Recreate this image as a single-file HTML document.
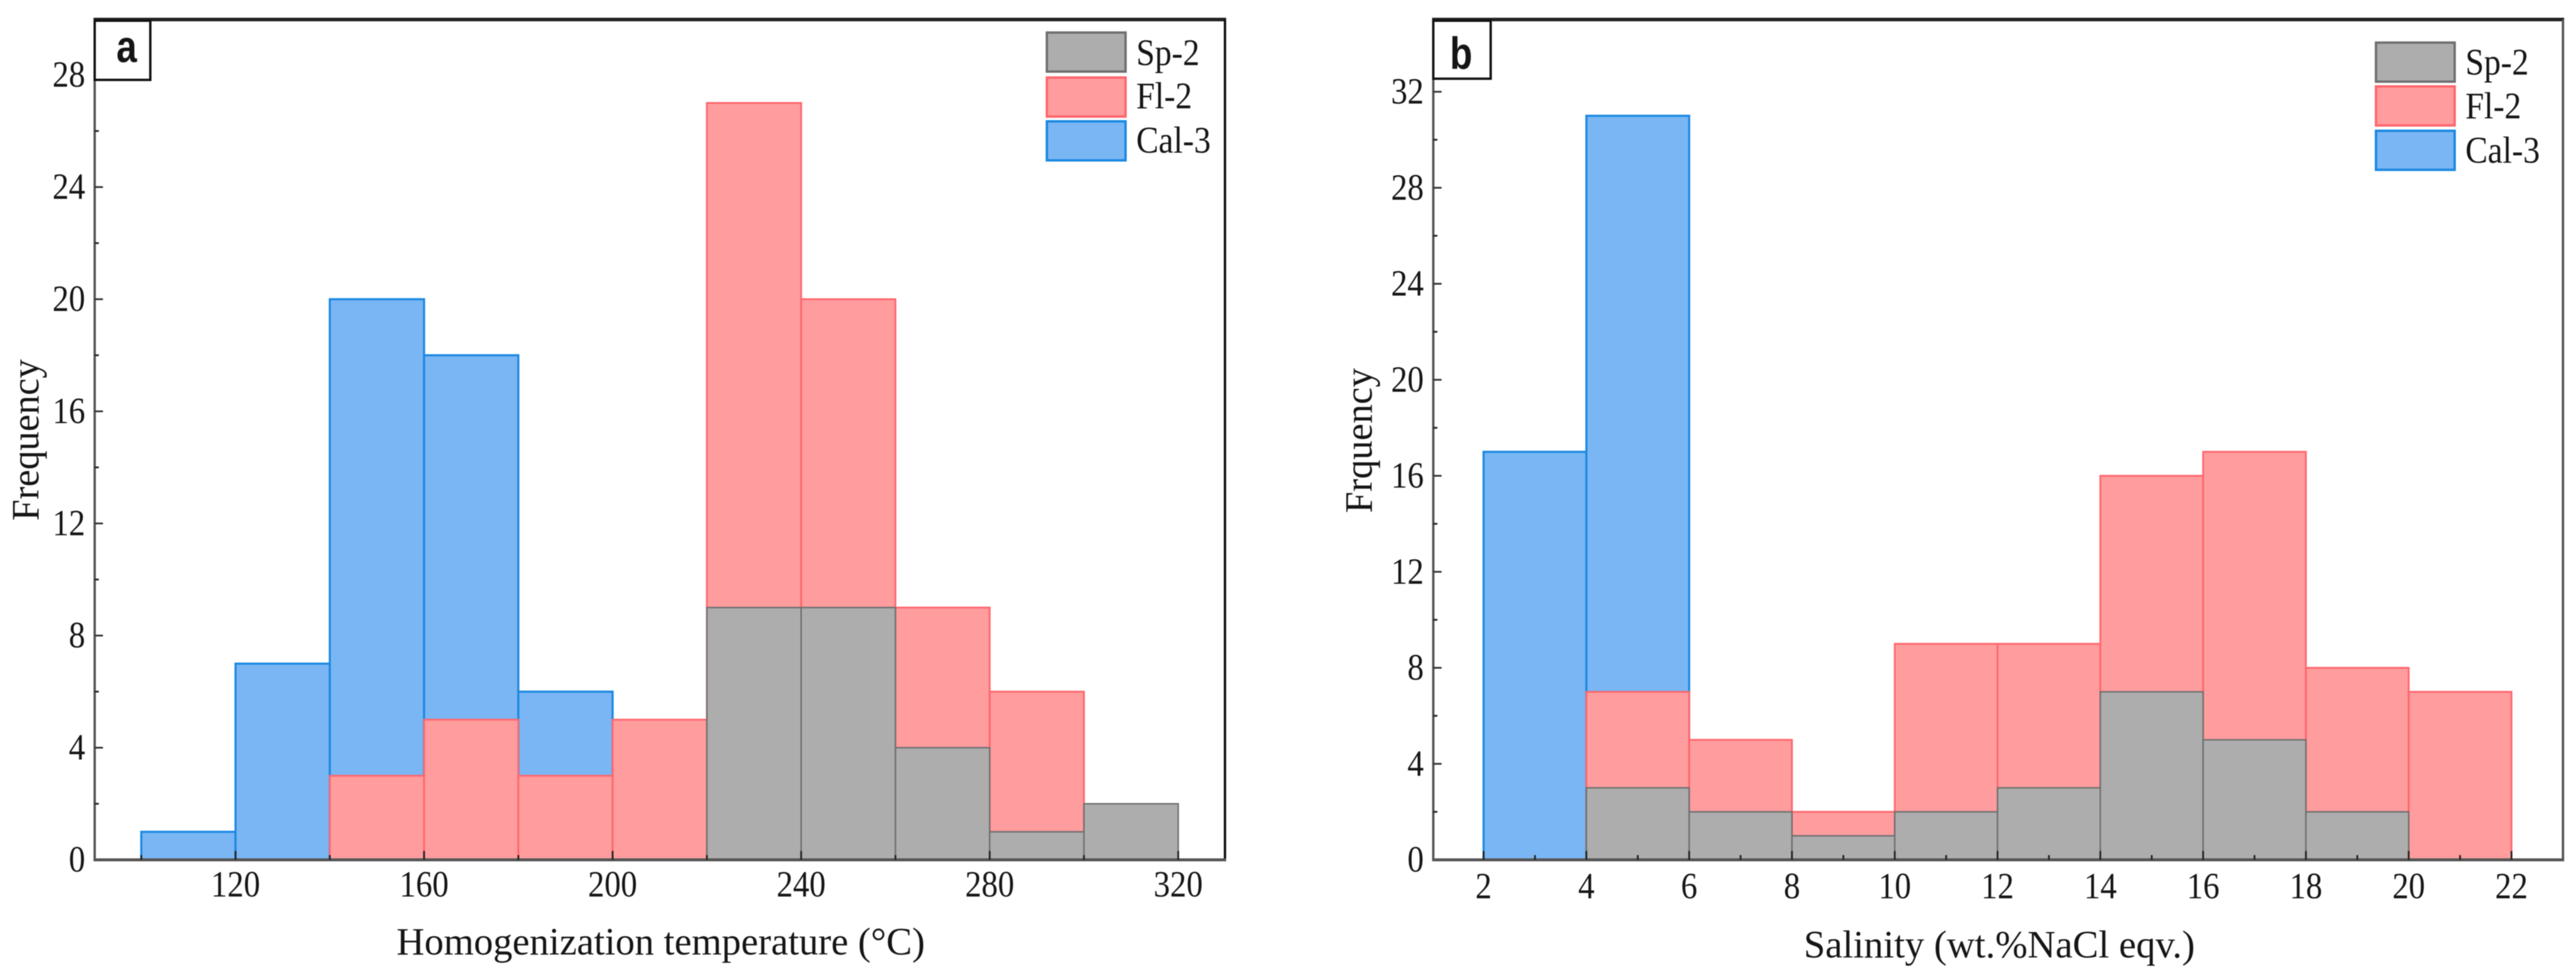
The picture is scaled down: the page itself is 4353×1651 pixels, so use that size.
<!DOCTYPE html>
<html lang="en">
<head>
<meta charset="utf-8">
<title>Histograms of homogenization temperature and salinity</title>
<style>
html,body{margin:0;padding:0;background:#fff;width:4353px;height:1651px;overflow:hidden}
svg{display:block;filter:blur(0.9px)}
text{font-family:"Liberation Serif",serif;fill:#151515}
</style>
</head>
<body>
<svg id="figure" xmlns="http://www.w3.org/2000/svg" width="4353" height="1651" viewBox="0 0 4353 1651"></svg>
<script>
const seriesNames = ['Sp-2', 'Fl-2', 'Cal-3'];

const tempBinStarts = [100, 120, 140, 160, 180, 200, 220, 240, 260, 280, 300];
const tempCal = [1, 7, 20, 18, 6, 0, 0, 0, 0, 0, 0];
const tempFl = [0, 0, 3, 5, 3, 5, 27, 20, 9, 6, 0];
const tempSp = [0, 0, 0, 0, 0, 0, 9, 9, 4, 1, 2];
const tempXTickLabels = [120, 160, 200, 240, 280, 320];
const tempXMinorTicks = [100, 140, 180, 220, 260, 300];
const tempYTickLabels = [0, 4, 8, 12, 16, 20, 24, 28];
const tempYMinorTicks = [2, 6, 10, 14, 18, 22, 26];

const salBinStarts = [2, 4, 6, 8, 10, 12, 14, 16, 18, 20];
const salCal = [17, 31, 0, 0, 0, 0, 0, 0, 0, 0];
const salFl = [0, 7, 5, 2, 9, 9, 16, 17, 8, 7];
const salSp = [0, 3, 2, 1, 2, 3, 7, 5, 2, 0];
const salXTickLabels = [2, 4, 6, 8, 10, 12, 14, 16, 18, 20, 22];
const salXMinorTicks = [3, 5, 7, 9, 11, 13, 15, 17, 19, 21];
const salYTickLabels = [0, 4, 8, 12, 16, 20, 24, 28, 32];
const salYMinorTicks = [2, 6, 10, 14, 18, 22, 26, 30];

const svg = document.getElementById('figure');
const NS = 'http://www.w3.org/2000/svg';
const COLORS = {
  'Sp-2': {fill: '#adadad', stroke: '#6f6f6f', sw: 2.5},
  'Fl-2': {fill: '#ff9c9e', stroke: '#ff666c', sw: 3},
  'Cal-3': {fill: '#7ab6f3', stroke: '#1a88e2', sw: 3.5}
};

function make(tag, attrs, parent) {
  const n = document.createElementNS(NS, tag);
  for (const k in attrs) n.setAttribute(k, attrs[k]);
  parent.appendChild(n);
  return n;
}

function addText(parent, str, x, y, size, sx, anchor, extra) {
  const attrs = {
    transform: 'translate(' + x + ' ' + y + ') scale(' + sx + ' 1)',
    'font-size': size,
    'text-anchor': anchor
  };
  if (extra) for (const k in extra) attrs[k] = extra[k];
  const t = make('text', attrs, parent);
  t.textContent = str;
  return t;
}

function drawPanel(cfg) {
  const g = make('g', {}, svg);
  
  

  const xPos = v => cfg.x0 + (v - cfg.xRef) * cfg.xScale;
  const yPos = v => cfg.y0 - v * cfg.yScale;

  // bars: Cal-3 first, then Fl-2, then Sp-2 on top
  cfg.layers.forEach(layer => {
    const c = COLORS[layer.series];
    layer.values.forEach((val, i) => {
      if (!val) return;
      const r = make('rect', {
        x: xPos(cfg.bins[i]),
        y: yPos(val),
        width: xPos(cfg.bins[i] + cfg.binWidth) - xPos(cfg.bins[i]),
        height: yPos(0) - yPos(val),
        fill: c.fill,
        stroke: c.stroke,
        'stroke-width': c.sw
      }, g);
      
      
    });
  });

  // frame
  const top = make('line', {x1: cfg.left - 2, x2: cfg.right + 2, y1: 33, y2: 33, stroke: '#222', 'stroke-width': 6}, g);
  
  
  const right = make('line', {x1: cfg.right, x2: cfg.right, y1: 33, y2: cfg.y0 + 2, stroke: cfg.rightColor, 'stroke-width': 4}, g);
  
  
  const left = make('line', {x1: cfg.left, x2: cfg.left, y1: 33, y2: cfg.y0 + 2, stroke: '#555', 'stroke-width': 4}, g);
  
  
  const bottom = make('line', {x1: cfg.left - 2, x2: cfg.right + 2, y1: cfg.y0, y2: cfg.y0, stroke: '#555', 'stroke-width': 5}, g);
  
  

  // x ticks
  cfg.xTicks.forEach(v => {
    const t = make('line', {x1: xPos(v), x2: xPos(v), y1: cfg.y0, y2: cfg.y0 - 15, stroke: '#222', 'stroke-width': 3}, g);
    
    
    const l = addText(g, String(v), xPos(v), cfg.xLabelY, 63, 0.88, 'middle');
    
    
  });
  cfg.xMinor.forEach(v => {
    const t = make('line', {x1: xPos(v), x2: xPos(v), y1: cfg.y0, y2: cfg.y0 - 8, stroke: '#222', 'stroke-width': 3}, g);
    
    
  });

  // y ticks
  cfg.yTicks.forEach(v => {
    if (v > 0) {
      const t = make('line', {x1: cfg.left, x2: cfg.left + 14, y1: yPos(v), y2: yPos(v), stroke: '#333', 'stroke-width': 3}, g);
      
      
    }
    const l = addText(g, String(v), cfg.left - 16, yPos(v) + 20, 63, 0.88, 'end');
    
    
  });
  cfg.yMinor.forEach(v => {
    const t = make('line', {x1: cfg.left, x2: cfg.left + 7, y1: yPos(v), y2: yPos(v), stroke: '#222', 'stroke-width': 3}, g);
    
    
  });

  // axis titles
  const xt = make('text', {x: cfg.xTitleX, y: cfg.xTitleY, 'font-size': 66, textLength: cfg.xTitleLen, lengthAdjust: 'spacingAndGlyphs'}, g);
  xt.textContent = cfg.xTitle;
  
  
  const yt = make('text', {transform: 'translate(' + cfg.yTitleX + ' ' + cfg.yTitleBottom + ') rotate(-90)', 'font-size': 66, textLength: cfg.yTitleLen, lengthAdjust: 'spacingAndGlyphs'}, g);
  yt.textContent = cfg.yTitle;
  
  

  // panel letter
  const box = make('rect', {x: cfg.left, y: 35, width: cfg.boxW, height: cfg.boxH, fill: '#fff', stroke: '#111', 'stroke-width': 4}, g);
  
  
  const letter = addText(g, cfg.letter, cfg.letterX, cfg.letterY, 76, 0.82, 'middle', {'font-weight': 'bold', style: 'font-family:"Liberation Sans",sans-serif'});
  
  

  // legend
  seriesNames.forEach((name, i) => {
    const c = COLORS[name];
    const item = make('g', {}, g);
    
    
    const sw = make('rect', {x: cfg.legX, y: cfg.legY[i], width: 133, height: 66, fill: c.fill, stroke: c.stroke, 'stroke-width': 4}, item);
    
    
    const tx = addText(item, name, cfg.legX + 151, cfg.legBase[i], 63, 0.9, 'start');
    
    
  });
}

drawPanel({
  name: 'panel-a-temperature-histogram', letter: 'a',
  left: 160, right: 2070, y0: 1453, yScale: 47.37,
  x0: 398, xRef: 120, xScale: 7.965,
  bins: tempBinStarts, binWidth: 20,
  layers: [{series: 'Cal-3', values: tempCal}, {series: 'Fl-2', values: tempFl}, {series: 'Sp-2', values: tempSp}],
  xTicks: tempXTickLabels, xMinor: tempXMinorTicks, yTicks: tempYTickLabels, yMinor: tempYMinorTicks,
  xLabelY: 1515, rightColor: '#111',
  xTitle: 'Homogenization temperature (°C)', xTitleX: 670, xTitleY: 1613, xTitleLen: 893,
  yTitle: 'Frequency', yTitleX: 65, yTitleBottom: 880, yTitleLen: 273,
  boxW: 94, boxH: 100, letterX: 214, letterY: 105,
  legX: 1769, legY: [55, 131, 205], legBase: [110, 183, 258]
});

drawPanel({
  name: 'panel-b-salinity-histogram', letter: 'b',
  left: 2422, right: 4331, y0: 1453, yScale: 40.56,
  x0: 2507, xRef: 2, xScale: 86.85,
  bins: salBinStarts, binWidth: 2,
  layers: [{series: 'Cal-3', values: salCal}, {series: 'Fl-2', values: salFl}, {series: 'Sp-2', values: salSp}],
  xTicks: salXTickLabels, xMinor: salXMinorTicks, yTicks: salYTickLabels, yMinor: salYMinorTicks,
  xLabelY: 1518, rightColor: '#555',
  xTitle: 'Salinity (wt.%NaCl eqv.)', xTitleX: 3048, xTitleY: 1618, xTitleLen: 661,
  yTitle: 'Frquency', yTitleX: 2318, yTitleBottom: 867, yTitleLen: 245,
  boxW: 97, boxH: 98, letterX: 2469, letterY: 116,
  legX: 4015, legY: [72, 146, 221], legBase: [126, 200, 275]
});
</script>
</body>
</html>
